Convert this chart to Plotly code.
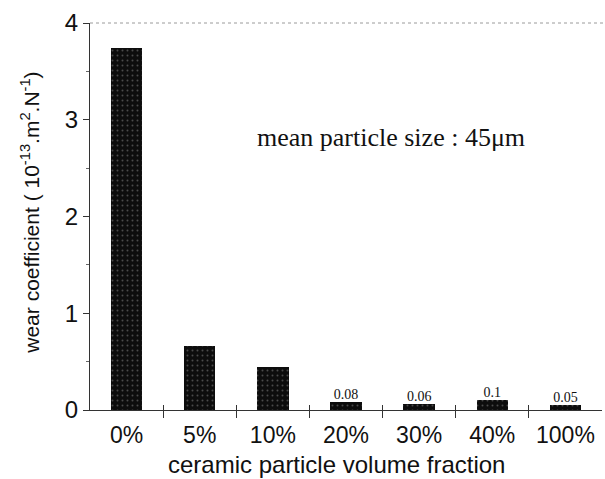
import plotly.graph_objects as go

# wear coefficient per ceramic volume fraction (units of 1e-13 m^2/N)
fractions = ["0%", "5%", "10%", "20%", "30%", "40%", "100%"]
wear = [3.74, 0.66, 0.44, 0.08, 0.06, 0.1, 0.05]
# only the small bars carry a printed value
labelled = [3, 4, 5, 6]

SANS = "Liberation Sans, Arial, sans-serif"
SERIF = "Liberation Serif, Times New Roman, serif"

xs = list(range(len(fractions)))

fig = go.Figure()
fig.add_trace(go.Bar(
    x=xs,
    y=wear,
    width=0.43,
    marker=dict(
        color="#0d0d0d",
        line=dict(width=0),
        pattern=dict(shape=".", fgcolor="#8a8a8a", bgcolor="#0d0d0d",
                     size=5, solidity=0.12, fillmode="overlay"),
    ),
    showlegend=False,
))

# value labels above the small bars
fig.add_trace(go.Scatter(
    x=[xs[i] for i in labelled],
    y=[wear[i] for i in labelled],
    mode="text",
    text=[f"{wear[i]:g}" for i in labelled],
    textposition="top center",
    textfont=dict(family=SERIF, size=14, color="#111"),
    cliponaxis=False,
    showlegend=False,
    hoverinfo="skip",
))

boundaries = [i + 0.5 for i in range(len(fractions) - 1)]

fig.update_layout(
    width=605, height=479,
    margin=dict(l=90, r=3, t=23, b=69),
    paper_bgcolor="white", plot_bgcolor="white",
    bargap=0,
    xaxis=dict(
        range=[-0.5, 6.5],
        tickvals=xs,
        ticktext=fractions,
        ticks="",
        ticklabelstandoff=4,
        showgrid=False, zeroline=False,
        showline=True, linecolor="#333", linewidth=1,
        tickfont=dict(family=SANS, size=23, color="#111"),
        minor=dict(tickmode="array", tickvals=boundaries, ticks="outside",
                   ticklen=7, tickcolor="#333", tickwidth=1, showgrid=False),
    ),
    xaxis2=dict(
        overlaying="x", matches="x", anchor="y", side="bottom",
        range=[-0.5, 6.5],
        tickvals=boundaries, ticks="inside", ticklen=5,
        tickcolor="#333", showticklabels=False,
        showgrid=False, zeroline=False, showline=False,
    ),
    yaxis=dict(
        range=[0, 4],
        tickvals=[0, 1, 2, 3, 4],
        ticks="outside", ticklen=6, tickcolor="#333",
        showgrid=False, zeroline=False,
        showline=True, linecolor="#333", linewidth=1,
        tickfont=dict(family=SANS, size=24, color="#111"),
        minor=dict(dtick=0.5, ticks="outside", ticklen=3,
                   tickcolor="#666", showgrid=False),
    ),
    shapes=[dict(type="line", xref="paper", yref="paper",
                 x0=0, x1=1.01, y0=1, y1=1,
                 line=dict(color="#9a9a9a", width=1, dash="dot"))],
    annotations=[
        dict(text="mean particle size : 45\u03bcm",
             xref="paper", yref="paper", x=0.588, y=0.705,
             xanchor="center", yanchor="middle", showarrow=False,
             font=dict(family=SERIF, size=26, color="#111")),
        dict(text="ceramic particle volume fraction",
             xref="paper", yref="paper", x=0.482, y=-0.14,
             xanchor="center", yanchor="middle", showarrow=False,
             font=dict(family=SANS, size=24, color="#111")),
        dict(text="wear coefficient ( 10<sup>-13</sup>.m<sup>2</sup>.N<sup>-1</sup>)",
             xref="paper", yref="paper", x=-0.117, y=0.51,
             xanchor="center", yanchor="middle", textangle=-90,
             showarrow=False,
             font=dict(family=SANS, size=21, color="#111")),
    ],
)

# invisible trace so the overlay axis carrying the inner tick marks is drawn
fig.add_trace(go.Scatter(x=[None], y=[None], xaxis="x2", showlegend=False,
                         hoverinfo="skip"))

fig.write_html("out.html")
